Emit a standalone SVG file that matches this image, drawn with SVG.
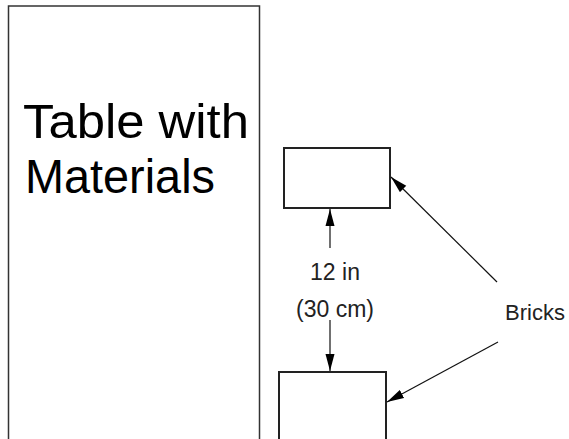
<svg xmlns="http://www.w3.org/2000/svg" width="569" height="439" viewBox="0 0 569 439">
  <style>
    .box { fill: #ffffff; stroke: #222222; stroke-width: 2; }
    .table { fill: #ffffff; stroke: #333333; stroke-width: 1.5; }
    .conn { stroke: #111111; stroke-width: 1.2; fill: none; marker-end: url(#arrow); }
    .big { font-family: "Liberation Sans", Arial, sans-serif; font-size: 49px; fill: #000000; }
    .lbl { font-family: "Liberation Sans", Arial, sans-serif; font-size: 23px; fill: #222222; }
  </style>
  <defs>
    <marker id="arrow" markerUnits="userSpaceOnUse" markerWidth="18" markerHeight="10" refX="17" refY="5" orient="auto">
      <path d="M0,0.5 L17,5 L0,9.5 Z" fill="#000000"/>
    </marker>
  </defs>
  <rect width="569" height="439" fill="#ffffff"/>
  <g id="table">
    <rect class="table" x="8.5" y="6" width="251" height="445"/>
    <text class="big" x="23" y="138" textLength="226" lengthAdjust="spacingAndGlyphs">Table with</text>
    <text class="big" x="25" y="193" textLength="190" lengthAdjust="spacingAndGlyphs">Materials</text>
  </g>
  <g id="brick-top">
    <rect class="box" x="284" y="148" width="106" height="60"/>
  </g>
  <g id="brick-bottom">
    <rect class="box" x="279" y="372" width="107" height="80"/>
  </g>
  <g id="dimension">
    <text class="lbl" x="335" y="280" text-anchor="middle">12 in</text>
    <text class="lbl" x="335" y="317" text-anchor="middle">(30 cm)</text>
  </g>
  <g id="bricks-label">
    <text class="lbl" x="505" y="320" style="font-size:22px">Bricks</text>
  </g>
  <g id="connectors">
    <line class="conn" x1="330" y1="248" x2="330" y2="209"/>
    <line class="conn" x1="330" y1="320" x2="330" y2="371"/>
    <line class="conn" x1="497" y1="282" x2="391" y2="177"/>
    <line class="conn" x1="498" y1="342" x2="387" y2="402"/>
  </g>
</svg>
